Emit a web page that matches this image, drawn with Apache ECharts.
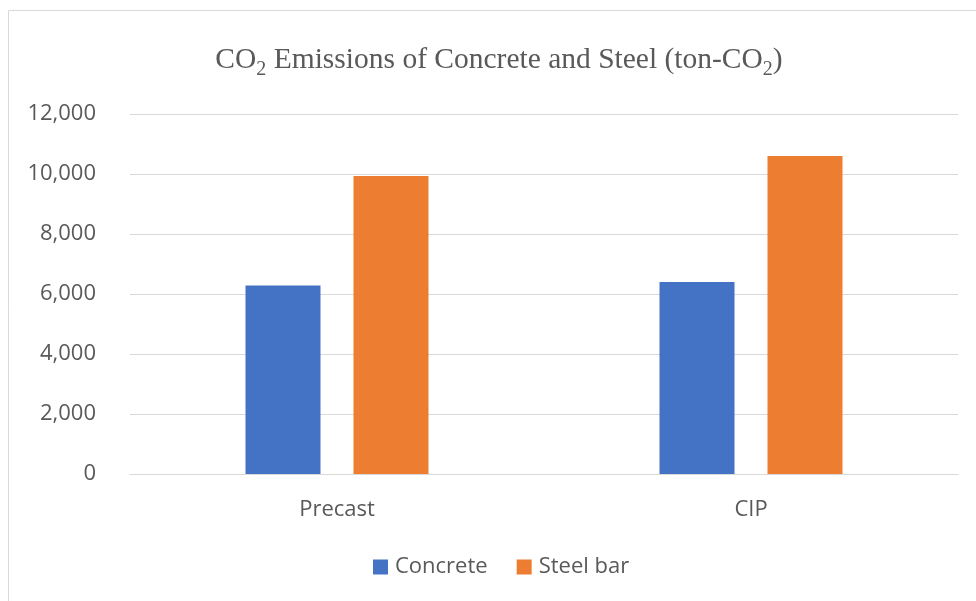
<!DOCTYPE html>
<html>
<head>
<meta charset="utf-8">
<script src="https://cdn.jsdelivr.net/npm/echarts@6/dist/echarts.min.js"></script>
<style>html,body{margin:0;padding:0;background:#fff}#c{width:976px;height:601px}</style>
</head>
<body>
<div id="c"></div>
<script>
const categories = ['Precast', 'CIP'];
const seriesNames = ['Concrete', 'Steel bar'];
const concrete = [6280, 6400];
const steelBar = [9930, 10600];
const yTicks = { min: 0, max: 12000, interval: 2000 };

const chart = echarts.init(document.getElementById('c'), null, { renderer: 'canvas' });
const textColor = '#595959';
const labelFont = '"Open Sans", "Noto Sans", sans-serif';
const serif = '"Liberation Serif", "Times New Roman", serif';
chart.setOption({
  animation: false,
  backgroundColor: '#fff',
  graphic: [{
    type: 'rect', silent: true,
    shape: { x: 8.5, y: 10.5, width: 1200, height: 1200 },
    style: { fill: 'none', stroke: '#D9D9D9', lineWidth: 1 }
  }],
  title: {
    text: '{a|CO}{s|2}{a| Emissions of Concrete and Steel (ton-CO}{s|2}{a|)}',
    left: 494, top: 40, textAlign: 'center',
    textStyle: {
      fontWeight: 'normal',
      rich: {
        a: { fontFamily: serif, fontWeight: 'normal', fontSize: 29.5, color: textColor, lineHeight: 32, verticalAlign: 'top' },
        s: { fontFamily: serif, fontWeight: 'normal', fontSize: 20, color: textColor, lineHeight: 20, padding: [15, 0, 0, 0], verticalAlign: 'top' }
      }
    }
  },
  legend: {
    left: 373, top: 556, padding: 0,
    itemWidth: 15, itemHeight: 15, itemGap: 29,
    icon: 'rect',
    textStyle: { color: textColor, fontSize: 22, fontFamily: labelFont, padding: [0, 0, 0, 2] },
    data: seriesNames
  },
  grid: { left: 130, right: 18, top: 114, bottom: 127, containLabel: false },
  xAxis: {
    type: 'category', data: categories,
    axisLine: { lineStyle: { color: '#D9D9D9', width: 1 } },
    axisTick: { show: false },
    axisLabel: { color: textColor, fontSize: 22, fontFamily: labelFont, margin: 25 }
  },
  yAxis: {
    type: 'value', min: yTicks.min, max: yTicks.max, interval: yTicks.interval,
    axisLine: { show: false }, axisTick: { show: false },
    splitLine: { lineStyle: { color: '#D9D9D9', width: 1 } },
    axisLabel: {
      color: textColor, fontSize: 22, fontFamily: labelFont, margin: 34,
      formatter: v => v.toLocaleString('en-US')
    }
  },
  series: [
    { name: seriesNames[0], type: 'bar', data: concrete, barWidth: 75, barGap: '44%', itemStyle: { color: '#4472C4' } },
    { name: seriesNames[1], type: 'bar', data: steelBar, barWidth: 75, barGap: '44%', itemStyle: { color: '#ED7D31' } }
  ]
});
</script>
</body>
</html>
